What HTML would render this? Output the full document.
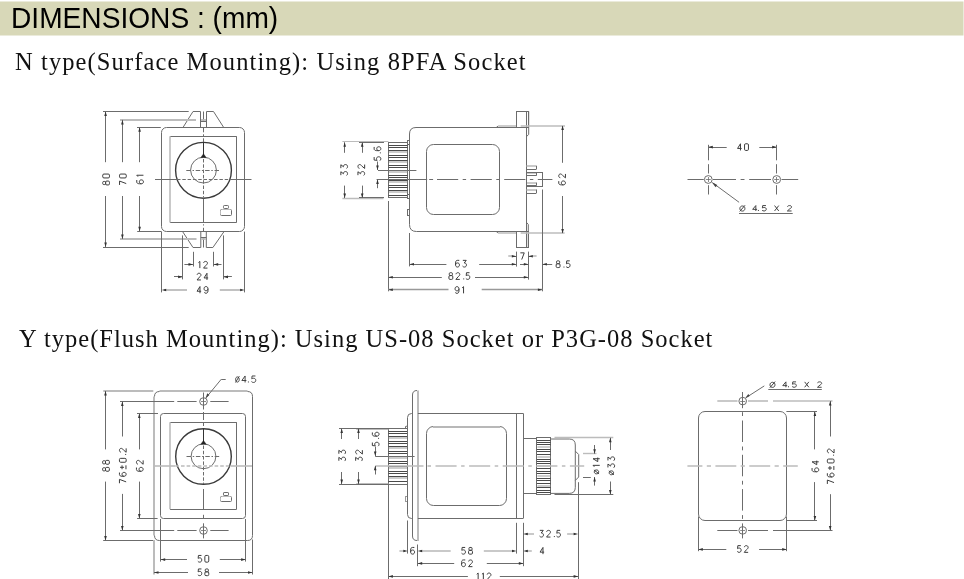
<!DOCTYPE html>
<html><head><meta charset="utf-8"><title>Dimensions</title>
<style>
html,body{margin:0;padding:0;background:#fff;width:964px;height:579px;overflow:hidden}
#bar{will-change:transform;position:absolute;left:0;top:0;width:964px;height:36px}
.t{will-change:transform;position:absolute;white-space:nowrap;font-family:"Liberation Serif",serif;font-size:24px;letter-spacing:1.2px;color:#111;line-height:1}
svg text{font-family:"Liberation Sans",sans-serif}
</style></head><body>
<svg id="bar" width="964" height="36" viewBox="0 0 964 36"><rect x="0" y="1.5" width="963.5" height="34" fill="#d8d8b8"/>
<text x="11" y="28" font-size="29.3" textLength="267.2" lengthAdjust="spacingAndGlyphs" fill="#000" style="font-family:'Liberation Sans',sans-serif">DIMENSIONS : (mm)</text></svg>
<div class="t" style="left:15.3px;top:49.5px;font-size:24.5px;letter-spacing:1.1px">N type(Surface Mounting): Using 8PFA Socket</div>
<div class="t" style="left:18.9px;top:326.5px;font-size:24.5px;letter-spacing:1.012px">Y type(Flush Mounting): Using US-08 Socket or P3G-08 Socket</div>
<svg style="position:absolute;left:0;top:0" width="964" height="579" viewBox="0 0 964 579" stroke-linecap="butt">
<rect x="161.5" y="127.5" width="83.0" height="104.0" rx="5" stroke="#6c6c6c" stroke-width="1" fill="none"/>
<line x1="170" y1="136.5" x2="236.6" y2="136.5" stroke="#6c6c6c" stroke-width="1" />
<line x1="236.5" y1="136.3" x2="236.5" y2="222.5" stroke="#6c6c6c" stroke-width="1" />
<line x1="170" y1="222.5" x2="236.6" y2="222.5" stroke="#6c6c6c" stroke-width="1" />
<line x1="170.0" y1="136.3" x2="170.0" y2="222.5" stroke="#bcbcbc" stroke-width="1.6" />
<circle cx="203.5" cy="170.3" r="27.9" stroke="#3a3a3a" stroke-width="1.4" fill="none"/>
<circle cx="203.5" cy="170.1" r="12.9" stroke="#6c6c6c" stroke-width="1" fill="none"/>
<line x1="203.5" y1="142.3" x2="203.5" y2="155" stroke="#333" stroke-width="1" />
<polygon points="203.5,153.8 200.8,157.6 206.2,157.6" stroke="#222" stroke-width="0.4" fill="#222"/>
<line x1="186.3" y1="170.5" x2="220" y2="170.5" stroke="#6c6c6c" stroke-width="1" stroke-dasharray="4.5 1.7 1.5 1.7" stroke-dashoffset="0"/>
<line x1="203.5" y1="159" x2="203.5" y2="197.5" stroke="#6c6c6c" stroke-width="1" stroke-dasharray="3.5 1.8" stroke-dashoffset="0"/>
<line x1="203.5" y1="127.3" x2="203.5" y2="142" stroke="#6c6c6c" stroke-width="1" stroke-dasharray="5 2 2 2" stroke-dashoffset="0"/>
<line x1="203.5" y1="198.5" x2="203.5" y2="222.5" stroke="#6c6c6c" stroke-width="1" />
<line x1="203.5" y1="224.3" x2="203.5" y2="225.5" stroke="#6c6c6c" stroke-width="1" />
<line x1="203.5" y1="227.8" x2="203.5" y2="231.3" stroke="#6c6c6c" stroke-width="1" />
<line x1="203.5" y1="237.5" x2="203.5" y2="247.5" stroke="#6c6c6c" stroke-width="1" />
<line x1="155" y1="179.5" x2="177" y2="179.5" stroke="#6c6c6c" stroke-width="1" />
<line x1="177" y1="179.5" x2="229.5" y2="179.5" stroke="#6c6c6c" stroke-width="1" stroke-dasharray="3.5 1.8" stroke-dashoffset="0"/>
<line x1="229.5" y1="179.5" x2="251.5" y2="179.5" stroke="#6c6c6c" stroke-width="1" />
<polyline points="183.1,127.3 193,111.5 200.5,111.5 200.5,127.3" stroke="#6c6c6c" stroke-width="1" fill="none"/>
<polyline points="206.5,127.3 206.5,111.5 213.5,111.5 223.6,127.3" stroke="#6c6c6c" stroke-width="1" fill="none"/>
<line x1="200.5" y1="121.5" x2="206.5" y2="121.5" stroke="#6c6c6c" stroke-width="1" />
<line x1="203.5" y1="111.5" x2="203.5" y2="121.3" stroke="#6c6c6c" stroke-width="1" />
<polyline points="182.6,231.6 193,247.5 200.8,247.5 200.8,231.6" stroke="#6c6c6c" stroke-width="1" fill="none"/>
<polyline points="206.3,231.6 206.3,247.5 212.9,247.5 224,231.6" stroke="#6c6c6c" stroke-width="1" fill="none"/>
<line x1="200.8" y1="237.5" x2="206.3" y2="237.5" stroke="#6c6c6c" stroke-width="1" />
<rect x="220.5" y="209.5" width="11.0" height="6.0" rx="1" stroke="#6c6c6c" stroke-width="1" fill="none"/>
<line x1="221.5" y1="209.5" x2="230.5" y2="209.5" stroke="#bcbcbc" stroke-width="1" />
<line x1="220.5" y1="210.5" x2="220.5" y2="214.5" stroke="#bcbcbc" stroke-width="1" />
<rect x="223.5" y="205.5" width="5.0" height="3.0" rx="0.8" stroke="#6c6c6c" stroke-width="1" fill="none"/>
<line x1="103" y1="111.5" x2="188.7" y2="111.5" stroke="#6c6c6c" stroke-width="1" />
<line x1="103" y1="247.5" x2="188.7" y2="247.5" stroke="#6c6c6c" stroke-width="1" />
<line x1="120" y1="120.0" x2="196" y2="120.0" stroke="#bcbcbc" stroke-width="1.8" />
<line x1="120" y1="239.0" x2="196.5" y2="239.0" stroke="#bcbcbc" stroke-width="1.8" />
<line x1="201" y1="120.0" x2="206" y2="120.0" stroke="#bcbcbc" stroke-width="1.8" />
<line x1="201.3" y1="239.0" x2="205.8" y2="239.0" stroke="#bcbcbc" stroke-width="1.8" />
<line x1="137" y1="127.5" x2="160.8" y2="127.5" stroke="#6c6c6c" stroke-width="1" />
<line x1="137.2" y1="231.5" x2="161.5" y2="231.5" stroke="#6c6c6c" stroke-width="1" />
<line x1="105.5" y1="111.5" x2="105.5" y2="162.2" stroke="#6c6c6c" stroke-width="1" />
<line x1="105.5" y1="196" x2="105.5" y2="247" stroke="#6c6c6c" stroke-width="1" />
<polygon points="105.60,111.50 104.30,116.00 106.90,116.00" fill="#333"/>
<polygon points="105.60,247.00 104.30,242.50 106.90,242.50" fill="#333"/>
<g fill="none" stroke="#3c3c3c" stroke-width="1.0" transform="rotate(-90 106.1 179.5)"><path transform="translate(100.65 176.15) scale(0.9750 0.9571)" d="M1.3 3Q0.4 3 0.4 2V1Q0.4 0 1.4 0H2.6Q3.6 0 3.6 1V2Q3.6 3 2.7 3ZM1.2 3Q0 3 0 4.3V5.8Q0 7 1.2 7H2.8Q4 7 4 5.8V4.3Q4 3 2.8 3Z" vector-effect="non-scaling-stroke"/><path transform="translate(107.65 176.15) scale(0.9750 0.9571)" d="M1.1 0H2.9Q4 0 4 1.3V5.7Q4 7 2.9 7H1.1Q0 7 0 5.7V1.3Q0 0 1.1 0Z" vector-effect="non-scaling-stroke"/></g>
<line x1="122.5" y1="119.9" x2="122.5" y2="162.2" stroke="#6c6c6c" stroke-width="1" />
<line x1="122.5" y1="196" x2="122.5" y2="238.9" stroke="#6c6c6c" stroke-width="1" />
<polygon points="122.40,119.90 121.10,124.40 123.70,124.40" fill="#333"/>
<polygon points="122.40,238.90 121.10,234.40 123.70,234.40" fill="#333"/>
<g fill="none" stroke="#3c3c3c" stroke-width="1.0" transform="rotate(-90 122.9 179.5)"><path transform="translate(117.45 176.15) scale(0.9750 0.9571)" d="M0 0H4L1.4 7" vector-effect="non-scaling-stroke"/><path transform="translate(124.45 176.15) scale(0.9750 0.9571)" d="M1.1 0H2.9Q4 0 4 1.3V5.7Q4 7 2.9 7H1.1Q0 7 0 5.7V1.3Q0 0 1.1 0Z" vector-effect="non-scaling-stroke"/></g>
<line x1="139.5" y1="127.3" x2="139.5" y2="162.2" stroke="#6c6c6c" stroke-width="1" />
<line x1="139.5" y1="196" x2="139.5" y2="231.3" stroke="#6c6c6c" stroke-width="1" />
<polygon points="139.60,127.30 138.30,131.80 140.90,131.80" fill="#333"/>
<polygon points="139.60,231.30 138.30,226.80 140.90,226.80" fill="#333"/>
<g fill="none" stroke="#3c3c3c" stroke-width="1.0" transform="rotate(-90 140.1 179.5)"><path transform="translate(135.85 176.15) scale(0.9750 0.9571)" d="M3.8 0H1.8C0.6 0 0 1.1 0 2.7V4.8C0 6.1 0.8 7 2 7S4 6.1 4 4.8S3.2 2.7 2 2.7S0 3.6 0 4.8" vector-effect="non-scaling-stroke"/><path transform="translate(142.85 176.15) scale(0.9750 0.9571)" d="M0.1 1.3L1.54 0V7" vector-effect="non-scaling-stroke"/></g>
<line x1="193.5" y1="251.8" x2="193.5" y2="266.5" stroke="#6c6c6c" stroke-width="1" />
<line x1="213.5" y1="251.8" x2="213.5" y2="266.5" stroke="#6c6c6c" stroke-width="1" />
<line x1="184.4" y1="264.5" x2="193" y2="264.5" stroke="#6c6c6c" stroke-width="1" />
<polygon points="193.00,264.40 188.50,263.10 188.50,265.70" fill="#333"/>
<line x1="213.7" y1="264.5" x2="221.5" y2="264.5" stroke="#6c6c6c" stroke-width="1" />
<polygon points="213.70,264.40 218.20,263.10 218.20,265.70" fill="#333"/>
<g fill="none" stroke="#3c3c3c" stroke-width="1.0"><path transform="translate(198.35 261.40) scale(0.9750 0.9571)" d="M0.1 1.3L1.54 0V7" vector-effect="non-scaling-stroke"/><path transform="translate(203.55 261.40) scale(0.9750 0.9571)" d="M0.1 1.6C0.3 0.4 1 0 2 0C3.2 0 4 0.7 4 1.8C4 2.8 3.3 3.4 2.4 4.1L0 7H4" vector-effect="non-scaling-stroke"/></g>
<line x1="182.5" y1="235.4" x2="182.5" y2="279.4" stroke="#6c6c6c" stroke-width="1" />
<line x1="223.5" y1="235.4" x2="223.5" y2="279.4" stroke="#6c6c6c" stroke-width="1" />
<line x1="174" y1="276.5" x2="182.6" y2="276.5" stroke="#6c6c6c" stroke-width="1" />
<polygon points="182.60,276.90 178.10,275.60 178.10,278.20" fill="#333"/>
<line x1="223.5" y1="276.5" x2="231.9" y2="276.5" stroke="#6c6c6c" stroke-width="1" />
<polygon points="223.50,276.90 228.00,275.60 228.00,278.20" fill="#333"/>
<g fill="none" stroke="#3c3c3c" stroke-width="1.0"><path transform="translate(197.05 273.25) scale(0.9750 0.9571)" d="M0.1 1.6C0.3 0.4 1 0 2 0C3.2 0 4 0.7 4 1.8C4 2.8 3.3 3.4 2.4 4.1L0 7H4" vector-effect="non-scaling-stroke"/><path transform="translate(204.05 273.25) scale(0.9750 0.9571)" d="M3 7V0L0 4.9H4.2" vector-effect="non-scaling-stroke"/></g>
<line x1="161.5" y1="231.6" x2="161.5" y2="292.4" stroke="#6c6c6c" stroke-width="1" />
<line x1="244.5" y1="231.6" x2="244.5" y2="292.4" stroke="#6c6c6c" stroke-width="1" />
<line x1="164" y1="290.0" x2="187" y2="290.0" stroke="#bcbcbc" stroke-width="1.8" />
<polygon points="161.70,290.00 166.20,288.70 166.20,291.30" fill="#333"/>
<line x1="219.8" y1="290.0" x2="242" y2="290.0" stroke="#bcbcbc" stroke-width="1.8" />
<polygon points="244.60,290.00 240.10,288.70 240.10,291.30" fill="#333"/>
<g fill="none" stroke="#3c3c3c" stroke-width="1.0"><path transform="translate(197.05 286.55) scale(0.9750 0.9571)" d="M3 7V0L0 4.9H4.2" vector-effect="non-scaling-stroke"/><path transform="translate(204.05 286.55) scale(0.9750 0.9571)" d="M4 2.2C4 3.5 3.2 4.4 2 4.4S0 3.5 0 2.2S0.8 0 2 0S4 0.9 4 2.2V4.6C4 6.1 3.2 7 2 7C1.2 7 0.6 6.7 0.2 6.1" vector-effect="non-scaling-stroke"/></g>
<path d="M 526.5 127.5 L 416 127.5 Q 409.5 127.5 409.5 134 L 409.5 224.5 Q 409.5 231.5 416.5 231.5 L 526.5 231.5 Z" stroke="#6c6c6c" stroke-width="1" fill="none"/>
<rect x="426.5" y="144.5" width="73.0" height="70.0" rx="7" stroke="#6c6c6c" stroke-width="1" fill="none"/>
<rect x="388.5" y="142.5" width="19.0" height="55.0" rx="0" stroke="#6c6c6c" stroke-width="1" fill="none"/>
<line x1="388.5" y1="145.5" x2="407.6" y2="145.5" stroke="#4a4a4a" stroke-width="1" />
<line x1="388.5" y1="147.5" x2="407.6" y2="147.5" stroke="#4a4a4a" stroke-width="1" />
<line x1="388.5" y1="150.5" x2="407.6" y2="150.5" stroke="#4a4a4a" stroke-width="1" />
<line x1="389.0" y1="152.0" x2="407.1" y2="152.0" stroke="#c0c0c0" stroke-width="1.6" />
<line x1="388.5" y1="155.5" x2="407.6" y2="155.5" stroke="#4a4a4a" stroke-width="1" />
<line x1="388.5" y1="157.5" x2="407.6" y2="157.5" stroke="#4a4a4a" stroke-width="1" />
<line x1="388.5" y1="160.5" x2="407.6" y2="160.5" stroke="#4a4a4a" stroke-width="1" />
<line x1="389.0" y1="162.0" x2="407.1" y2="162.0" stroke="#c0c0c0" stroke-width="1.6" />
<line x1="388.5" y1="165.5" x2="407.6" y2="165.5" stroke="#4a4a4a" stroke-width="1" />
<line x1="388.5" y1="167.5" x2="407.6" y2="167.5" stroke="#4a4a4a" stroke-width="1" />
<line x1="388.5" y1="170.5" x2="407.6" y2="170.5" stroke="#4a4a4a" stroke-width="1" />
<line x1="389.0" y1="172.0" x2="407.1" y2="172.0" stroke="#c0c0c0" stroke-width="1.6" />
<line x1="388.5" y1="175.5" x2="407.6" y2="175.5" stroke="#4a4a4a" stroke-width="1" />
<line x1="388.5" y1="177.5" x2="407.6" y2="177.5" stroke="#4a4a4a" stroke-width="1" />
<line x1="388.5" y1="180.5" x2="407.6" y2="180.5" stroke="#4a4a4a" stroke-width="1" />
<line x1="389.0" y1="182.0" x2="407.1" y2="182.0" stroke="#c0c0c0" stroke-width="1.6" />
<line x1="388.5" y1="185.5" x2="407.6" y2="185.5" stroke="#4a4a4a" stroke-width="1" />
<line x1="388.5" y1="187.5" x2="407.6" y2="187.5" stroke="#4a4a4a" stroke-width="1" />
<line x1="388.5" y1="190.5" x2="407.6" y2="190.5" stroke="#4a4a4a" stroke-width="1" />
<line x1="389.0" y1="192.0" x2="407.1" y2="192.0" stroke="#c0c0c0" stroke-width="1.6" />
<line x1="388.5" y1="195.5" x2="407.6" y2="195.5" stroke="#4a4a4a" stroke-width="1" />
<rect x="407.5" y="140.5" width="2.0" height="4.0" rx="0" stroke="#6c6c6c" stroke-width="1" fill="none"/>
<rect x="407.5" y="194.5" width="2.0" height="4.0" rx="0" stroke="#6c6c6c" stroke-width="1" fill="none"/>
<rect x="407.5" y="209.5" width="2.0" height="6.0" rx="0" stroke="#6c6c6c" stroke-width="1" fill="none"/>
<line x1="378" y1="170.5" x2="416.4" y2="170.5" stroke="#6c6c6c" stroke-width="1" />
<line x1="376.6" y1="179.5" x2="427.2" y2="179.5" stroke="#6c6c6c" stroke-width="1" />
<line x1="429.2" y1="179.5" x2="433.1" y2="179.5" stroke="#6c6c6c" stroke-width="1" />
<line x1="437" y1="179.5" x2="552.4" y2="179.5" stroke="#6c6c6c" stroke-width="1" stroke-dasharray="21.2 4.5 3.4 4.5" stroke-dashoffset="0"/>
<rect x="516.5" y="111.5" width="12.0" height="16.0" rx="0" stroke="#6c6c6c" stroke-width="1" fill="none"/>
<line x1="526.5" y1="111.3" x2="526.5" y2="136.6" stroke="#6c6c6c" stroke-width="1" />
<polyline points="528.7,111.3 528.7,134.5 526.5,136.6" stroke="#6c6c6c" stroke-width="1" fill="none"/>
<rect x="516.5" y="231.5" width="12.0" height="16.0" rx="0" stroke="#6c6c6c" stroke-width="1" fill="none"/>
<line x1="526.5" y1="222.4" x2="526.5" y2="247.3" stroke="#6c6c6c" stroke-width="1" />
<polyline points="528.3,247.3 528.3,224.5 526.5,222.4" stroke="#6c6c6c" stroke-width="1" fill="none"/>
<line x1="496.2" y1="127.5" x2="498.3" y2="126" stroke="#6c6c6c" stroke-width="1" />
<line x1="498.3" y1="126.0" x2="516" y2="126.0" stroke="#bcbcbc" stroke-width="1.5" />
<line x1="520.7" y1="126.0" x2="565" y2="126.0" stroke="#bcbcbc" stroke-width="1.5" />
<line x1="496.2" y1="231.5" x2="497.9" y2="232.8" stroke="#6c6c6c" stroke-width="1" />
<line x1="497.9" y1="233.0" x2="516" y2="233.0" stroke="#bcbcbc" stroke-width="1.5" />
<line x1="520.7" y1="233.0" x2="564.6" y2="233.0" stroke="#bcbcbc" stroke-width="1.5" />
<line x1="526.5" y1="166.0" x2="536.4" y2="166.0" stroke="#bcbcbc" stroke-width="1.6" />
<line x1="526.5" y1="169.5" x2="536.4" y2="169.5" stroke="#6c6c6c" stroke-width="1" />
<line x1="536.5" y1="165.8" x2="536.5" y2="169.2" stroke="#6c6c6c" stroke-width="1" />
<line x1="526.5" y1="173.0" x2="536.4" y2="173.0" stroke="#bcbcbc" stroke-width="1.6" />
<line x1="526.5" y1="175.5" x2="536.4" y2="175.5" stroke="#6c6c6c" stroke-width="1" />
<line x1="536.5" y1="172.7" x2="536.5" y2="175.7" stroke="#6c6c6c" stroke-width="1" />
<line x1="526.5" y1="183.0" x2="536.4" y2="183.0" stroke="#bcbcbc" stroke-width="1.6" />
<line x1="526.5" y1="185.5" x2="536.4" y2="185.5" stroke="#6c6c6c" stroke-width="1" />
<line x1="536.5" y1="182.6" x2="536.5" y2="185.7" stroke="#6c6c6c" stroke-width="1" />
<line x1="526.5" y1="190.0" x2="536.4" y2="190.0" stroke="#bcbcbc" stroke-width="1.6" />
<line x1="526.5" y1="193.5" x2="536.4" y2="193.5" stroke="#6c6c6c" stroke-width="1" />
<line x1="536.5" y1="189.5" x2="536.5" y2="193" stroke="#6c6c6c" stroke-width="1" />
<rect x="526.5" y="172.5" width="16.0" height="14.0" rx="0" stroke="#6c6c6c" stroke-width="1" fill="none"/>
<line x1="542.5" y1="189.5" x2="542.5" y2="291.3" stroke="#6c6c6c" stroke-width="1" />
<line x1="562.5" y1="126" x2="562.5" y2="162.8" stroke="#6c6c6c" stroke-width="1" />
<polygon points="562.60,125.50 561.30,130.00 563.90,130.00" fill="#333"/>
<line x1="562.5" y1="196" x2="562.5" y2="233" stroke="#6c6c6c" stroke-width="1" />
<polygon points="562.60,233.50 561.30,229.00 563.90,229.00" fill="#333"/>
<g fill="none" stroke="#3c3c3c" stroke-width="1.0" transform="rotate(-90 562.1 179.4)"><path transform="translate(556.65 176.05) scale(0.9750 0.9571)" d="M3.8 0H1.8C0.6 0 0 1.1 0 2.7V4.8C0 6.1 0.8 7 2 7S4 6.1 4 4.8S3.2 2.7 2 2.7S0 3.6 0 4.8" vector-effect="non-scaling-stroke"/><path transform="translate(563.65 176.05) scale(0.9750 0.9571)" d="M0.1 1.6C0.3 0.4 1 0 2 0C3.2 0 4 0.7 4 1.8C4 2.8 3.3 3.4 2.4 4.1L0 7H4" vector-effect="non-scaling-stroke"/></g>
<line x1="342.4" y1="141.5" x2="388.5" y2="141.5" stroke="#bcbcbc" stroke-width="1" />
<line x1="359" y1="142.5" x2="384" y2="142.5" stroke="#6c6c6c" stroke-width="1" />
<line x1="342.4" y1="198.5" x2="383.5" y2="198.5" stroke="#bcbcbc" stroke-width="1.4" />
<line x1="359" y1="197.5" x2="384" y2="197.5" stroke="#6c6c6c" stroke-width="1" />
<line x1="344.5" y1="142.3" x2="344.5" y2="152.8" stroke="#6c6c6c" stroke-width="1" />
<polygon points="344.70,142.30 343.40,146.80 346.00,146.80" fill="#333"/>
<line x1="344.5" y1="185.6" x2="344.5" y2="198" stroke="#6c6c6c" stroke-width="1" />
<polygon points="344.70,198.00 343.40,193.50 346.00,193.50" fill="#333"/>
<g fill="none" stroke="#3c3c3c" stroke-width="1.0" transform="rotate(-90 344.2 170)"><path transform="translate(338.75 166.65) scale(0.9750 0.9571)" d="M0.3 0H3.8L1.7 2.8H2.1C3.3 2.8 4 3.6 4 4.8C4 6.1 3.2 7 2 7C1.1 7 0.4 6.6 0 6" vector-effect="non-scaling-stroke"/><path transform="translate(345.75 166.65) scale(0.9750 0.9571)" d="M0.3 0H3.8L1.7 2.8H2.1C3.3 2.8 4 3.6 4 4.8C4 6.1 3.2 7 2 7C1.1 7 0.4 6.6 0 6" vector-effect="non-scaling-stroke"/></g>
<line x1="362.5" y1="142.3" x2="362.5" y2="152.8" stroke="#6c6c6c" stroke-width="1" />
<polygon points="362.20,142.30 360.90,146.80 363.50,146.80" fill="#333"/>
<line x1="362.5" y1="185.6" x2="362.5" y2="198" stroke="#6c6c6c" stroke-width="1" />
<polygon points="362.20,198.00 360.90,193.50 363.50,193.50" fill="#333"/>
<g fill="none" stroke="#3c3c3c" stroke-width="1.0" transform="rotate(-90 361.3 170)"><path transform="translate(355.85 166.65) scale(0.9750 0.9571)" d="M0.3 0H3.8L1.7 2.8H2.1C3.3 2.8 4 3.6 4 4.8C4 6.1 3.2 7 2 7C1.1 7 0.4 6.6 0 6" vector-effect="non-scaling-stroke"/><path transform="translate(362.85 166.65) scale(0.9750 0.9571)" d="M0.1 1.6C0.3 0.4 1 0 2 0C3.2 0 4 0.7 4 1.8C4 2.8 3.3 3.4 2.4 4.1L0 7H4" vector-effect="non-scaling-stroke"/></g>
<line x1="377.5" y1="161.5" x2="377.5" y2="170" stroke="#6c6c6c" stroke-width="1" />
<polygon points="377.50,170.00 376.20,165.50 378.80,165.50" fill="#333"/>
<line x1="377.5" y1="179.6" x2="377.5" y2="188.2" stroke="#6c6c6c" stroke-width="1" />
<polygon points="377.50,179.60 376.20,184.10 378.80,184.10" fill="#333"/>
<g fill="none" stroke="#3c3c3c" stroke-width="1.0" transform="rotate(-90 377.5 153.7)"><path transform="translate(370.55 150.35) scale(0.9750 0.9571)" d="M3.7 0H0.6L0.3 3.1C0.7 2.7 1.3 2.5 2 2.5C3.2 2.5 4 3.4 4 4.7C4 6.1 3.1 7 1.9 7C1 7 0.4 6.6 0 6" vector-effect="non-scaling-stroke"/><rect x="377.85" y="156.05" width="1.0" height="1.0" fill="#3c3c3c" stroke="none"/><path transform="translate(380.55 150.35) scale(0.9750 0.9571)" d="M3.8 0H1.8C0.6 0 0 1.1 0 2.7V4.8C0 6.1 0.8 7 2 7S4 6.1 4 4.8S3.2 2.7 2 2.7S0 3.6 0 4.8" vector-effect="non-scaling-stroke"/></g>
<line x1="409.5" y1="233" x2="409.5" y2="266.4" stroke="#6c6c6c" stroke-width="1" />
<line x1="409.5" y1="264.5" x2="446.4" y2="264.5" stroke="#6c6c6c" stroke-width="1" />
<polygon points="409.50,264.30 414.00,263.00 414.00,265.60" fill="#333"/>
<line x1="479.2" y1="264.5" x2="516.3" y2="264.5" stroke="#6c6c6c" stroke-width="1" />
<polygon points="516.30,264.30 511.80,263.00 511.80,265.60" fill="#333"/>
<g fill="none" stroke="#3c3c3c" stroke-width="1.0"><path transform="translate(455.55 260.35) scale(0.9750 0.9571)" d="M3.8 0H1.8C0.6 0 0 1.1 0 2.7V4.8C0 6.1 0.8 7 2 7S4 6.1 4 4.8S3.2 2.7 2 2.7S0 3.6 0 4.8" vector-effect="non-scaling-stroke"/><path transform="translate(462.55 260.35) scale(0.9750 0.9571)" d="M0.3 0H3.8L1.7 2.8H2.1C3.3 2.8 4 3.6 4 4.8C4 6.1 3.2 7 2 7C1.1 7 0.4 6.6 0 6" vector-effect="non-scaling-stroke"/></g>
<line x1="516.5" y1="251.6" x2="516.5" y2="266.6" stroke="#6c6c6c" stroke-width="1" />
<line x1="528.5" y1="251.6" x2="528.5" y2="279.6" stroke="#6c6c6c" stroke-width="1" />
<line x1="508.2" y1="256.0" x2="512" y2="256.0" stroke="#bcbcbc" stroke-width="1.6" />
<line x1="512" y1="256.5" x2="516.3" y2="256.5" stroke="#6c6c6c" stroke-width="1" />
<polygon points="516.30,256.20 511.80,254.90 511.80,257.50" fill="#333"/>
<line x1="528.3" y1="256.5" x2="532.5" y2="256.5" stroke="#6c6c6c" stroke-width="1" />
<line x1="532.5" y1="256.0" x2="536.6" y2="256.0" stroke="#bcbcbc" stroke-width="1.6" />
<polygon points="528.30,256.20 532.80,254.90 532.80,257.50" fill="#333"/>
<g fill="none" stroke="#3c3c3c" stroke-width="1.0"><path transform="translate(520.35 252.85) scale(0.9750 0.9571)" d="M0 0H4L1.4 7" vector-effect="non-scaling-stroke"/></g>
<line x1="520" y1="264.5" x2="528.3" y2="264.5" stroke="#6c6c6c" stroke-width="1" />
<polygon points="528.30,264.30 523.80,263.00 523.80,265.60" fill="#333"/>
<line x1="542.4" y1="264.5" x2="552.2" y2="264.5" stroke="#6c6c6c" stroke-width="1" />
<polygon points="542.40,264.30 546.90,263.00 546.90,265.60" fill="#333"/>
<g fill="none" stroke="#3c3c3c" stroke-width="1.0"><path transform="translate(556.15 260.85) scale(0.9750 0.9571)" d="M1.3 3Q0.4 3 0.4 2V1Q0.4 0 1.4 0H2.6Q3.6 0 3.6 1V2Q3.6 3 2.7 3ZM1.2 3Q0 3 0 4.3V5.8Q0 7 1.2 7H2.8Q4 7 4 5.8V4.3Q4 3 2.8 3Z" vector-effect="non-scaling-stroke"/><rect x="563.45" y="266.55" width="1.0" height="1.0" fill="#3c3c3c" stroke="none"/><path transform="translate(566.15 260.85) scale(0.9750 0.9571)" d="M3.7 0H0.6L0.3 3.1C0.7 2.7 1.3 2.5 2 2.5C3.2 2.5 4 3.4 4 4.7C4 6.1 3.1 7 1.9 7C1 7 0.4 6.6 0 6" vector-effect="non-scaling-stroke"/></g>
<line x1="388.5" y1="201" x2="388.5" y2="291.3" stroke="#6c6c6c" stroke-width="1" />
<line x1="388.3" y1="277.5" x2="441.8" y2="277.5" stroke="#6c6c6c" stroke-width="1" />
<polygon points="388.30,277.20 392.80,275.90 392.80,278.50" fill="#333"/>
<line x1="475" y1="277.5" x2="528.3" y2="277.5" stroke="#6c6c6c" stroke-width="1" />
<polygon points="528.30,277.20 523.80,275.90 523.80,278.50" fill="#333"/>
<g fill="none" stroke="#3c3c3c" stroke-width="1.0"><path transform="translate(448.90 272.70) scale(0.9750 0.9571)" d="M1.3 3Q0.4 3 0.4 2V1Q0.4 0 1.4 0H2.6Q3.6 0 3.6 1V2Q3.6 3 2.7 3ZM1.2 3Q0 3 0 4.3V5.8Q0 7 1.2 7H2.8Q4 7 4 5.8V4.3Q4 3 2.8 3Z" vector-effect="non-scaling-stroke"/><path transform="translate(455.90 272.70) scale(0.9750 0.9571)" d="M0.1 1.6C0.3 0.4 1 0 2 0C3.2 0 4 0.7 4 1.8C4 2.8 3.3 3.4 2.4 4.1L0 7H4" vector-effect="non-scaling-stroke"/><rect x="463.20" y="278.40" width="1.0" height="1.0" fill="#3c3c3c" stroke="none"/><path transform="translate(465.90 272.70) scale(0.9750 0.9571)" d="M3.7 0H0.6L0.3 3.1C0.7 2.7 1.3 2.5 2 2.5C3.2 2.5 4 3.4 4 4.7C4 6.1 3.1 7 1.9 7C1 7 0.4 6.6 0 6" vector-effect="non-scaling-stroke"/></g>
<line x1="388.3" y1="289.5" x2="448.5" y2="289.5" stroke="#999" stroke-width="1.4" />
<polygon points="388.30,289.80 392.80,288.50 392.80,291.10" fill="#333"/>
<line x1="481.7" y1="289.5" x2="542.4" y2="289.5" stroke="#999" stroke-width="1.4" />
<polygon points="542.40,289.80 537.90,288.50 537.90,291.10" fill="#333"/>
<g fill="none" stroke="#3c3c3c" stroke-width="1.0"><path transform="translate(455.05 286.65) scale(0.9750 0.9571)" d="M4 2.2C4 3.5 3.2 4.4 2 4.4S0 3.5 0 2.2S0.8 0 2 0S4 0.9 4 2.2V4.6C4 6.1 3.2 7 2 7C1.2 7 0.6 6.7 0.2 6.1" vector-effect="non-scaling-stroke"/><path transform="translate(462.05 286.65) scale(0.9750 0.9571)" d="M0.1 1.3L1.54 0V7" vector-effect="non-scaling-stroke"/></g>
<circle cx="708.3" cy="179.5" r="3.9" stroke="#6c6c6c" stroke-width="1" fill="none"/>
<line x1="705.8" y1="179.5" x2="710.8" y2="179.5" stroke="#6c6c6c" stroke-width="0.8" />
<line x1="708.5" y1="177" x2="708.5" y2="182" stroke="#6c6c6c" stroke-width="0.8" />
<line x1="708.5" y1="144.8" x2="708.5" y2="160.3" stroke="#6c6c6c" stroke-width="1" />
<line x1="708.5" y1="164.2" x2="708.5" y2="173.5" stroke="#6c6c6c" stroke-width="1" />
<line x1="708.5" y1="185.2" x2="708.5" y2="194.5" stroke="#6c6c6c" stroke-width="1" />
<circle cx="776.7" cy="179.5" r="3.9" stroke="#6c6c6c" stroke-width="1" fill="none"/>
<line x1="774.2" y1="179.5" x2="779.2" y2="179.5" stroke="#6c6c6c" stroke-width="0.8" />
<line x1="776.5" y1="177" x2="776.5" y2="182" stroke="#6c6c6c" stroke-width="0.8" />
<line x1="776.5" y1="144.8" x2="776.5" y2="160.3" stroke="#6c6c6c" stroke-width="1" />
<line x1="776.5" y1="164.2" x2="776.5" y2="173.5" stroke="#6c6c6c" stroke-width="1" />
<line x1="776.5" y1="185.2" x2="776.5" y2="194.5" stroke="#6c6c6c" stroke-width="1" />
<line x1="687.5" y1="179.5" x2="703.8" y2="179.5" stroke="#6c6c6c" stroke-width="1" />
<line x1="713" y1="179.5" x2="736" y2="179.5" stroke="#6c6c6c" stroke-width="1" />
<line x1="740.6" y1="179.5" x2="744.5" y2="179.5" stroke="#6c6c6c" stroke-width="1" />
<line x1="749.2" y1="179.5" x2="771" y2="179.5" stroke="#6c6c6c" stroke-width="1" />
<line x1="781.5" y1="179.5" x2="798.2" y2="179.5" stroke="#6c6c6c" stroke-width="1" />
<line x1="708.3" y1="147.5" x2="726.7" y2="147.5" stroke="#6c6c6c" stroke-width="1" />
<polygon points="708.30,147.10 712.80,145.80 712.80,148.40" fill="#333"/>
<line x1="759.3" y1="147.5" x2="776.7" y2="147.5" stroke="#6c6c6c" stroke-width="1" />
<polygon points="776.70,147.10 772.20,145.80 772.20,148.40" fill="#333"/>
<g fill="none" stroke="#3c3c3c" stroke-width="1.0"><path transform="translate(737.55 143.75) scale(0.9750 0.9571)" d="M3 7V0L0 4.9H4.2" vector-effect="non-scaling-stroke"/><path transform="translate(744.55 143.75) scale(0.9750 0.9571)" d="M1.1 0H2.9Q4 0 4 1.3V5.7Q4 7 2.9 7H1.1Q0 7 0 5.7V1.3Q0 0 1.1 0Z" vector-effect="non-scaling-stroke"/></g>
<line x1="712.7" y1="182.9" x2="739.1" y2="202.3" stroke="#6c6c6c" stroke-width="1" />
<polygon points="711.6,182.1 717.3,184.9 715.6,187.2" fill="#444"/>
<g fill="none" stroke="#3c3c3c" stroke-width="0.95"><path transform="translate(739.87 205.08) scale(1.2600 0.9103)" d="M2 1C0.9 1 0 2.1 0 3.8S0.9 6.6 2 6.6S4 5.5 4 3.8S3.1 1 2 1ZM4.1 0.2L-0.1 7" vector-effect="non-scaling-stroke"/><path transform="translate(752.67 205.57) scale(1.0500 0.7714)" d="M3 7V0L0 4.9H4.2" vector-effect="non-scaling-stroke"/><rect x="757.90" y="209.97" width="1.0" height="1.0" fill="#3c3c3c" stroke="none"/><path transform="translate(762.07 205.57) scale(1.0500 0.7714)" d="M3.7 0H0.6L0.3 3.1C0.7 2.7 1.3 2.5 2 2.5C3.2 2.5 4 3.4 4 4.7C4 6.1 3.1 7 1.9 7C1 7 0.4 6.6 0 6" vector-effect="non-scaling-stroke"/><path transform="translate(774.57 205.57) scale(1.0500 0.7714)" d="M0 0L4 7M4 0L0 7" vector-effect="non-scaling-stroke"/><path transform="translate(787.37 205.57) scale(1.0500 0.7714)" d="M0.1 1.6C0.3 0.4 1 0 2 0C3.2 0 4 0.7 4 1.8C4 2.8 3.3 3.4 2.4 4.1L0 7H4" vector-effect="non-scaling-stroke"/></g>
<line x1="739" y1="213.5" x2="792.7" y2="213.5" stroke="#6c6c6c" stroke-width="1" />
<line x1="154.0" y1="396.5" x2="154.0" y2="535.5" stroke="#bcbcbc" stroke-width="2" />
<line x1="159.5" y1="391.0" x2="247.5" y2="391.0" stroke="#bcbcbc" stroke-width="2" />
<path d="M 154.5 396.5 Q 154.5 391.5 159.5 391.5" stroke="#6c6c6c" stroke-width="1" fill="none"/>
<path d="M 247.5 391.5 Q 252.5 391.5 252.5 396.5 L 252.5 535.5 Q 252.5 540.5 247.5 540.5 L 159.5 540.5 Q 154.5 540.5 154.5 535.5" stroke="#6c6c6c" stroke-width="1" fill="none"/>
<rect x="160.5" y="413.5" width="85.0" height="105.0" rx="3" stroke="#6c6c6c" stroke-width="1" fill="none"/>
<line x1="170" y1="422.5" x2="236.6" y2="422.5" stroke="#6c6c6c" stroke-width="1" />
<line x1="236.5" y1="422.2" x2="236.5" y2="509.3" stroke="#6c6c6c" stroke-width="1" />
<line x1="170" y1="509.5" x2="236.6" y2="509.5" stroke="#6c6c6c" stroke-width="1" />
<line x1="170.0" y1="422.2" x2="170.0" y2="509.3" stroke="#bcbcbc" stroke-width="1.6" />
<circle cx="203.5" cy="456.5" r="27.8" stroke="#3a3a3a" stroke-width="1.4" fill="none"/>
<circle cx="203.5" cy="456.3" r="12.4" stroke="#6c6c6c" stroke-width="1" fill="none"/>
<line x1="203.5" y1="428.7" x2="203.5" y2="442" stroke="#333" stroke-width="1" />
<polygon points="203.5,440.4 200.8,444.2 206.2,444.2" stroke="#222" stroke-width="0.4" fill="#222"/>
<line x1="186.5" y1="456.5" x2="220.5" y2="456.5" stroke="#6c6c6c" stroke-width="1" stroke-dasharray="4.5 1.7 1.5 1.7" stroke-dashoffset="0"/>
<line x1="203.5" y1="445.5" x2="203.5" y2="484" stroke="#6c6c6c" stroke-width="1" stroke-dasharray="3.5 1.8" stroke-dashoffset="0"/>
<line x1="154" y1="466.0" x2="175.4" y2="466.0" stroke="#bcbcbc" stroke-width="1.6" />
<line x1="175.4" y1="466.0" x2="230.9" y2="466.0" stroke="#bcbcbc" stroke-width="1.6" stroke-dasharray="3.6 2" stroke-dashoffset="0"/>
<line x1="230.9" y1="466.0" x2="252" y2="466.0" stroke="#bcbcbc" stroke-width="1.6" />
<line x1="203.5" y1="392.5" x2="203.5" y2="409.5" stroke="#6c6c6c" stroke-width="1" />
<line x1="203.5" y1="412" x2="203.5" y2="428" stroke="#6c6c6c" stroke-width="1" stroke-dasharray="8 3 3 3" stroke-dashoffset="0"/>
<line x1="203.5" y1="489" x2="203.5" y2="509.5" stroke="#6c6c6c" stroke-width="1" />
<line x1="203.5" y1="514.8" x2="203.5" y2="518.8" stroke="#6c6c6c" stroke-width="1" />
<line x1="203.5" y1="523.3" x2="203.5" y2="538.4" stroke="#6c6c6c" stroke-width="1" />
<circle cx="203.5" cy="401.5" r="3.8" stroke="#6c6c6c" stroke-width="1" fill="none"/>
<line x1="201" y1="401.5" x2="206" y2="401.5" stroke="#6c6c6c" stroke-width="0.8" />
<line x1="203.5" y1="399.0" x2="203.5" y2="404.0" stroke="#6c6c6c" stroke-width="0.8" />
<line x1="120" y1="401.5" x2="174.2" y2="401.5" stroke="#6c6c6c" stroke-width="1" />
<line x1="177.3" y1="401.5" x2="196.6" y2="401.5" stroke="#6c6c6c" stroke-width="1" />
<line x1="210.3" y1="401.5" x2="228.6" y2="401.5" stroke="#6c6c6c" stroke-width="1" />
<circle cx="203.5" cy="530.5" r="3.8" stroke="#6c6c6c" stroke-width="1" fill="none"/>
<line x1="201" y1="530.5" x2="206" y2="530.5" stroke="#6c6c6c" stroke-width="0.8" />
<line x1="203.5" y1="528.0" x2="203.5" y2="533.0" stroke="#6c6c6c" stroke-width="0.8" />
<line x1="120" y1="530.5" x2="174.2" y2="530.5" stroke="#6c6c6c" stroke-width="1" />
<line x1="177.3" y1="530.5" x2="196.6" y2="530.5" stroke="#6c6c6c" stroke-width="1" />
<line x1="210.3" y1="530.5" x2="228.6" y2="530.5" stroke="#6c6c6c" stroke-width="1" />
<line x1="206.1" y1="397.6" x2="221.3" y2="379.2" stroke="#6c6c6c" stroke-width="1" />
<line x1="221.3" y1="379.5" x2="225.7" y2="379.5" stroke="#6c6c6c" stroke-width="1" />
<polygon points="205.6,398.4 207.2,393.3 209.3,394.9" fill="#444"/>
<g fill="none" stroke="#3c3c3c" stroke-width="0.95"><path transform="translate(235.57 375.97) scale(0.9137 0.9286)" d="M2 1C0.9 1 0 2.1 0 3.8S0.9 6.6 2 6.6S4 5.5 4 3.8S3.1 1 2 1ZM4.1 0.2L-0.1 7" vector-effect="non-scaling-stroke"/><path transform="translate(241.87 375.97) scale(1.0750 0.9286)" d="M3 7V0L0 4.9H4.2" vector-effect="non-scaling-stroke"/><rect x="247.90" y="381.47" width="1.0" height="1.0" fill="#3c3c3c" stroke="none"/><path transform="translate(251.47 375.97) scale(1.0750 0.9286)" d="M3.7 0H0.6L0.3 3.1C0.7 2.7 1.3 2.5 2 2.5C3.2 2.5 4 3.4 4 4.7C4 6.1 3.1 7 1.9 7C1 7 0.4 6.6 0 6" vector-effect="non-scaling-stroke"/></g>
<rect x="220.5" y="496.5" width="11.0" height="5.0" rx="1" stroke="#6c6c6c" stroke-width="1" fill="none"/>
<line x1="221.5" y1="496.5" x2="230.5" y2="496.5" stroke="#bcbcbc" stroke-width="1" />
<line x1="220.5" y1="497.5" x2="220.5" y2="500.5" stroke="#bcbcbc" stroke-width="1" />
<rect x="223.5" y="492.5" width="5.0" height="3.0" rx="0.6" stroke="#6c6c6c" stroke-width="1" fill="none"/>
<line x1="103.3" y1="391.0" x2="153.3" y2="391.0" stroke="#bcbcbc" stroke-width="2" />
<line x1="103.2" y1="540.5" x2="153.5" y2="540.5" stroke="#6c6c6c" stroke-width="1" />
<line x1="137" y1="413.5" x2="158" y2="413.5" stroke="#6c6c6c" stroke-width="1" />
<line x1="137.1" y1="518.5" x2="157.6" y2="518.5" stroke="#6c6c6c" stroke-width="1" />
<line x1="105.5" y1="391" x2="105.5" y2="449.4" stroke="#6c6c6c" stroke-width="1" />
<line x1="105.5" y1="481.6" x2="105.5" y2="540.5" stroke="#6c6c6c" stroke-width="1" />
<polygon points="105.50,391.00 104.20,395.50 106.80,395.50" fill="#333"/>
<polygon points="105.50,540.50 104.20,536.00 106.80,536.00" fill="#333"/>
<g fill="none" stroke="#3c3c3c" stroke-width="1.0" transform="rotate(-90 106.0 465.8)"><path transform="translate(100.55 462.45) scale(0.9750 0.9571)" d="M1.3 3Q0.4 3 0.4 2V1Q0.4 0 1.4 0H2.6Q3.6 0 3.6 1V2Q3.6 3 2.7 3ZM1.2 3Q0 3 0 4.3V5.8Q0 7 1.2 7H2.8Q4 7 4 5.8V4.3Q4 3 2.8 3Z" vector-effect="non-scaling-stroke"/><path transform="translate(107.55 462.45) scale(0.9750 0.9571)" d="M1.3 3Q0.4 3 0.4 2V1Q0.4 0 1.4 0H2.6Q3.6 0 3.6 1V2Q3.6 3 2.7 3ZM1.2 3Q0 3 0 4.3V5.8Q0 7 1.2 7H2.8Q4 7 4 5.8V4.3Q4 3 2.8 3Z" vector-effect="non-scaling-stroke"/></g>
<line x1="122.5" y1="401.5" x2="122.5" y2="436.5" stroke="#6c6c6c" stroke-width="1" />
<line x1="122.5" y1="493.9" x2="122.5" y2="530.5" stroke="#6c6c6c" stroke-width="1" />
<polygon points="122.30,401.50 121.00,406.00 123.60,406.00" fill="#333"/>
<polygon points="122.30,530.50 121.00,526.00 123.60,526.00" fill="#333"/>
<g fill="none" stroke="#3c3c3c" stroke-width="1.0" transform="rotate(-90 122.8 465.8)"><path transform="translate(105.35 462.45) scale(0.9750 0.9571)" d="M0 0H4L1.4 7" vector-effect="non-scaling-stroke"/><path transform="translate(112.35 462.45) scale(0.9750 0.9571)" d="M3.8 0H1.8C0.6 0 0 1.1 0 2.7V4.8C0 6.1 0.8 7 2 7S4 6.1 4 4.8S3.2 2.7 2 2.7S0 3.6 0 4.8" vector-effect="non-scaling-stroke"/><path transform="translate(119.35 462.45) scale(0.9750 0.9571)" d="M2 0.6V4.8M0 2.7H4M0 6.8H4" vector-effect="non-scaling-stroke"/><path transform="translate(126.35 462.45) scale(0.9750 0.9571)" d="M1.1 0H2.9Q4 0 4 1.3V5.7Q4 7 2.9 7H1.1Q0 7 0 5.7V1.3Q0 0 1.1 0Z" vector-effect="non-scaling-stroke"/><rect x="133.65" y="468.15" width="1.0" height="1.0" fill="#3c3c3c" stroke="none"/><path transform="translate(136.35 462.45) scale(0.9750 0.9571)" d="M0.1 1.6C0.3 0.4 1 0 2 0C3.2 0 4 0.7 4 1.8C4 2.8 3.3 3.4 2.4 4.1L0 7H4" vector-effect="non-scaling-stroke"/></g>
<line x1="139.5" y1="413.5" x2="139.5" y2="449.4" stroke="#6c6c6c" stroke-width="1" />
<line x1="139.5" y1="481.6" x2="139.5" y2="518.5" stroke="#6c6c6c" stroke-width="1" />
<polygon points="139.30,413.50 138.00,418.00 140.60,418.00" fill="#333"/>
<polygon points="139.30,518.50 138.00,514.00 140.60,514.00" fill="#333"/>
<g fill="none" stroke="#3c3c3c" stroke-width="1.0" transform="rotate(-90 139.8 465.8)"><path transform="translate(134.35 462.45) scale(0.9750 0.9571)" d="M3.8 0H1.8C0.6 0 0 1.1 0 2.7V4.8C0 6.1 0.8 7 2 7S4 6.1 4 4.8S3.2 2.7 2 2.7S0 3.6 0 4.8" vector-effect="non-scaling-stroke"/><path transform="translate(141.35 462.45) scale(0.9750 0.9571)" d="M0.1 1.6C0.3 0.4 1 0 2 0C3.2 0 4 0.7 4 1.8C4 2.8 3.3 3.4 2.4 4.1L0 7H4" vector-effect="non-scaling-stroke"/></g>
<line x1="160.5" y1="519" x2="160.5" y2="561.6" stroke="#6c6c6c" stroke-width="1" />
<line x1="245.5" y1="519" x2="245.5" y2="561.6" stroke="#6c6c6c" stroke-width="1" />
<line x1="154.0" y1="540" x2="154.0" y2="574.5" stroke="#bcbcbc" stroke-width="2" />
<line x1="252.5" y1="539.5" x2="252.5" y2="574.5" stroke="#6c6c6c" stroke-width="1" />
<line x1="160.7" y1="559.5" x2="187" y2="559.5" stroke="#6c6c6c" stroke-width="1" />
<polygon points="160.70,559.60 165.20,558.30 165.20,560.90" fill="#333"/>
<line x1="219.8" y1="559.5" x2="245.6" y2="559.5" stroke="#6c6c6c" stroke-width="1" />
<polygon points="245.60,559.60 241.10,558.30 241.10,560.90" fill="#333"/>
<g fill="none" stroke="#3c3c3c" stroke-width="1.0"><path transform="translate(197.85 555.45) scale(0.9750 0.9571)" d="M3.7 0H0.6L0.3 3.1C0.7 2.7 1.3 2.5 2 2.5C3.2 2.5 4 3.4 4 4.7C4 6.1 3.1 7 1.9 7C1 7 0.4 6.6 0 6" vector-effect="non-scaling-stroke"/><path transform="translate(204.85 555.45) scale(0.9750 0.9571)" d="M1.1 0H2.9Q4 0 4 1.3V5.7Q4 7 2.9 7H1.1Q0 7 0 5.7V1.3Q0 0 1.1 0Z" vector-effect="non-scaling-stroke"/></g>
<line x1="154" y1="572.5" x2="188" y2="572.5" stroke="#6c6c6c" stroke-width="1" />
<polygon points="154.00,572.50 158.50,571.20 158.50,573.80" fill="#333"/>
<line x1="219" y1="572.5" x2="252.5" y2="572.5" stroke="#6c6c6c" stroke-width="1" />
<polygon points="252.50,572.50 248.00,571.20 248.00,573.80" fill="#333"/>
<g fill="none" stroke="#3c3c3c" stroke-width="1.0"><path transform="translate(197.85 568.95) scale(0.9750 0.9571)" d="M3.7 0H0.6L0.3 3.1C0.7 2.7 1.3 2.5 2 2.5C3.2 2.5 4 3.4 4 4.7C4 6.1 3.1 7 1.9 7C1 7 0.4 6.6 0 6" vector-effect="non-scaling-stroke"/><path transform="translate(204.85 568.95) scale(0.9750 0.9571)" d="M1.3 3Q0.4 3 0.4 2V1Q0.4 0 1.4 0H2.6Q3.6 0 3.6 1V2Q3.6 3 2.7 3ZM1.2 3Q0 3 0 4.3V5.8Q0 7 1.2 7H2.8Q4 7 4 5.8V4.3Q4 3 2.8 3Z" vector-effect="non-scaling-stroke"/></g>
<rect x="388.5" y="428.5" width="19.0" height="56.0" rx="0" stroke="#6c6c6c" stroke-width="1" fill="none"/>
<line x1="388.4" y1="431.5" x2="407.5" y2="431.5" stroke="#4a4a4a" stroke-width="1" />
<line x1="388.4" y1="433.5" x2="407.5" y2="433.5" stroke="#4a4a4a" stroke-width="1" />
<line x1="388.4" y1="436.5" x2="407.5" y2="436.5" stroke="#4a4a4a" stroke-width="1" />
<line x1="388.9" y1="438.0" x2="407.0" y2="438.0" stroke="#c0c0c0" stroke-width="1.6" />
<line x1="388.4" y1="441.5" x2="407.5" y2="441.5" stroke="#4a4a4a" stroke-width="1" />
<line x1="388.4" y1="443.5" x2="407.5" y2="443.5" stroke="#4a4a4a" stroke-width="1" />
<line x1="388.4" y1="446.5" x2="407.5" y2="446.5" stroke="#4a4a4a" stroke-width="1" />
<line x1="388.9" y1="448.0" x2="407.0" y2="448.0" stroke="#c0c0c0" stroke-width="1.6" />
<line x1="388.4" y1="451.5" x2="407.5" y2="451.5" stroke="#4a4a4a" stroke-width="1" />
<line x1="388.4" y1="453.5" x2="407.5" y2="453.5" stroke="#4a4a4a" stroke-width="1" />
<line x1="388.4" y1="456.5" x2="407.5" y2="456.5" stroke="#4a4a4a" stroke-width="1" />
<line x1="388.9" y1="458.0" x2="407.0" y2="458.0" stroke="#c0c0c0" stroke-width="1.6" />
<line x1="388.4" y1="461.5" x2="407.5" y2="461.5" stroke="#4a4a4a" stroke-width="1" />
<line x1="388.4" y1="463.5" x2="407.5" y2="463.5" stroke="#4a4a4a" stroke-width="1" />
<line x1="388.4" y1="466.5" x2="407.5" y2="466.5" stroke="#4a4a4a" stroke-width="1" />
<line x1="388.9" y1="468.0" x2="407.0" y2="468.0" stroke="#c0c0c0" stroke-width="1.6" />
<line x1="388.4" y1="471.5" x2="407.5" y2="471.5" stroke="#4a4a4a" stroke-width="1" />
<line x1="388.4" y1="473.5" x2="407.5" y2="473.5" stroke="#4a4a4a" stroke-width="1" />
<line x1="388.4" y1="476.5" x2="407.5" y2="476.5" stroke="#4a4a4a" stroke-width="1" />
<line x1="388.9" y1="478.0" x2="407.0" y2="478.0" stroke="#c0c0c0" stroke-width="1.6" />
<line x1="388.4" y1="481.5" x2="407.5" y2="481.5" stroke="#4a4a4a" stroke-width="1" />
<polyline points="405.5,428.5 405.5,426.5 407.5,426" stroke="#6c6c6c" stroke-width="1" fill="none"/>
<rect x="405.5" y="496.5" width="2.0" height="5.0" rx="0" stroke="#999" stroke-width="1" fill="none"/>
<path d="M 412.5 413.5 L 411.5 413.5 Q 407.5 413.5 407.5 417.5 L 407.5 514.5 Q 407.5 518.5 411.5 518.5 L 412.5 518.5" stroke="#6c6c6c" stroke-width="1" fill="none"/>
<path d="M 417 390.5 Q 412.5 390.5 412.5 395 L 412.5 536 Q 412.5 540.5 417 540.5" stroke="#6c6c6c" stroke-width="1" fill="none"/>
<line x1="418.0" y1="390.5" x2="418.0" y2="541" stroke="#bcbcbc" stroke-width="2" />
<line x1="417.9" y1="413.5" x2="523.4" y2="413.5" stroke="#6c6c6c" stroke-width="1" />
<line x1="417.9" y1="518.5" x2="523.4" y2="518.5" stroke="#6c6c6c" stroke-width="1" />
<line x1="523.5" y1="413.5" x2="523.5" y2="518.3" stroke="#6c6c6c" stroke-width="1" />
<line x1="516.5" y1="413.5" x2="516.5" y2="518.3" stroke="#6c6c6c" stroke-width="1" />
<rect x="426.5" y="426.5" width="80.0" height="79.0" rx="7" stroke="#6c6c6c" stroke-width="1" fill="none"/>
<line x1="433" y1="427.0" x2="500" y2="427.0" stroke="#b8b8b8" stroke-width="2" />
<rect x="523.5" y="438.5" width="13.0" height="55.0" rx="0" stroke="#6c6c6c" stroke-width="1" fill="none"/>
<rect x="536.5" y="437.5" width="14.0" height="57.0" rx="0" stroke="#6c6c6c" stroke-width="1" fill="none"/>
<line x1="536.9" y1="440.5" x2="550.7" y2="440.5" stroke="#4a4a4a" stroke-width="1" />
<line x1="536.9" y1="442.5" x2="550.7" y2="442.5" stroke="#4a4a4a" stroke-width="1" />
<line x1="536.9" y1="444.5" x2="550.7" y2="444.5" stroke="#4a4a4a" stroke-width="1" />
<line x1="537.4" y1="447.0" x2="550.2" y2="447.0" stroke="#c0c0c0" stroke-width="1.6" />
<line x1="536.9" y1="449.5" x2="550.7" y2="449.5" stroke="#4a4a4a" stroke-width="1" />
<line x1="536.9" y1="451.5" x2="550.7" y2="451.5" stroke="#4a4a4a" stroke-width="1" />
<line x1="536.9" y1="454.5" x2="550.7" y2="454.5" stroke="#4a4a4a" stroke-width="1" />
<line x1="537.4" y1="457.0" x2="550.2" y2="457.0" stroke="#c0c0c0" stroke-width="1.6" />
<line x1="536.9" y1="459.5" x2="550.7" y2="459.5" stroke="#4a4a4a" stroke-width="1" />
<line x1="536.9" y1="461.5" x2="550.7" y2="461.5" stroke="#4a4a4a" stroke-width="1" />
<line x1="536.9" y1="463.5" x2="550.7" y2="463.5" stroke="#4a4a4a" stroke-width="1" />
<line x1="537.4" y1="466.0" x2="550.2" y2="466.0" stroke="#c0c0c0" stroke-width="1.6" />
<line x1="536.9" y1="468.5" x2="550.7" y2="468.5" stroke="#4a4a4a" stroke-width="1" />
<line x1="536.9" y1="471.5" x2="550.7" y2="471.5" stroke="#4a4a4a" stroke-width="1" />
<line x1="536.9" y1="473.5" x2="550.7" y2="473.5" stroke="#4a4a4a" stroke-width="1" />
<line x1="537.4" y1="476.0" x2="550.2" y2="476.0" stroke="#c0c0c0" stroke-width="1.6" />
<line x1="536.9" y1="478.5" x2="550.7" y2="478.5" stroke="#4a4a4a" stroke-width="1" />
<line x1="536.9" y1="480.5" x2="550.7" y2="480.5" stroke="#4a4a4a" stroke-width="1" />
<line x1="536.9" y1="483.5" x2="550.7" y2="483.5" stroke="#4a4a4a" stroke-width="1" />
<line x1="537.4" y1="486.0" x2="550.2" y2="486.0" stroke="#c0c0c0" stroke-width="1.6" />
<line x1="536.9" y1="487.5" x2="550.7" y2="487.5" stroke="#4a4a4a" stroke-width="1" />
<line x1="536.9" y1="490.5" x2="550.7" y2="490.5" stroke="#4a4a4a" stroke-width="1" />
<line x1="536.9" y1="492.5" x2="550.7" y2="492.5" stroke="#4a4a4a" stroke-width="1" />
<path d="M 550.7 439 L 569.3 439 Q 575.3 439 575.3 445 L 575.3 487.4 Q 575.3 493.4 569.3 493.4 L 550.7 493.4" stroke="#6c6c6c" stroke-width="1" fill="none"/>
<polyline points="575.3,451.1 578.7,454.5 578.7,477 575.3,480.4" stroke="#6c6c6c" stroke-width="1" fill="none"/>
<line x1="375.7" y1="466.0" x2="423.5" y2="466.0" stroke="#bcbcbc" stroke-width="1.6" />
<line x1="427.5" y1="466.0" x2="431" y2="466.0" stroke="#bcbcbc" stroke-width="1.6" />
<line x1="435.5" y1="466.0" x2="584.2" y2="466.0" stroke="#bcbcbc" stroke-width="1.6" stroke-dasharray="21.1 4.5 3.5 4.5" stroke-dashoffset="0"/>
<line x1="339" y1="428.5" x2="388.7" y2="428.5" stroke="#6c6c6c" stroke-width="1" />
<line x1="339" y1="484.5" x2="388.7" y2="484.5" stroke="#6c6c6c" stroke-width="1" />
<line x1="356.3" y1="429.5" x2="388.4" y2="429.5" stroke="#bcbcbc" stroke-width="1" />
<line x1="356.3" y1="483.5" x2="388.4" y2="483.5" stroke="#bcbcbc" stroke-width="1" />
<line x1="341.5" y1="428.6" x2="341.5" y2="439" stroke="#6c6c6c" stroke-width="1" />
<polygon points="341.70,428.60 340.40,433.10 343.00,433.10" fill="#333"/>
<line x1="341.5" y1="472" x2="341.5" y2="484.1" stroke="#6c6c6c" stroke-width="1" />
<polygon points="341.70,484.10 340.40,479.60 343.00,479.60" fill="#333"/>
<g fill="none" stroke="#3c3c3c" stroke-width="1.0" transform="rotate(-90 342.2 455.6)"><path transform="translate(336.75 452.25) scale(0.9750 0.9571)" d="M0.3 0H3.8L1.7 2.8H2.1C3.3 2.8 4 3.6 4 4.8C4 6.1 3.2 7 2 7C1.1 7 0.4 6.6 0 6" vector-effect="non-scaling-stroke"/><path transform="translate(343.75 452.25) scale(0.9750 0.9571)" d="M0.3 0H3.8L1.7 2.8H2.1C3.3 2.8 4 3.6 4 4.8C4 6.1 3.2 7 2 7C1.1 7 0.4 6.6 0 6" vector-effect="non-scaling-stroke"/></g>
<line x1="358.5" y1="428.6" x2="358.5" y2="439" stroke="#6c6c6c" stroke-width="1" />
<polygon points="358.50,428.60 357.20,433.10 359.80,433.10" fill="#333"/>
<line x1="358.5" y1="472" x2="358.5" y2="484.1" stroke="#6c6c6c" stroke-width="1" />
<polygon points="358.50,484.10 357.20,479.60 359.80,479.60" fill="#333"/>
<g fill="none" stroke="#3c3c3c" stroke-width="1.0" transform="rotate(-90 359.0 455.6)"><path transform="translate(353.55 452.25) scale(0.9750 0.9571)" d="M0.3 0H3.8L1.7 2.8H2.1C3.3 2.8 4 3.6 4 4.8C4 6.1 3.2 7 2 7C1.1 7 0.4 6.6 0 6" vector-effect="non-scaling-stroke"/><path transform="translate(360.55 452.25) scale(0.9750 0.9571)" d="M0.1 1.6C0.3 0.4 1 0 2 0C3.2 0 4 0.7 4 1.8C4 2.8 3.3 3.4 2.4 4.1L0 7H4" vector-effect="non-scaling-stroke"/></g>
<line x1="375.5" y1="446.5" x2="375.5" y2="456" stroke="#6c6c6c" stroke-width="1" />
<polygon points="375.20,456.00 373.90,451.50 376.50,451.50" fill="#333"/>
<line x1="375.2" y1="456.5" x2="414.6" y2="456.5" stroke="#6c6c6c" stroke-width="1" />
<line x1="375.5" y1="465.8" x2="375.5" y2="474.5" stroke="#6c6c6c" stroke-width="1" />
<polygon points="375.20,465.80 373.90,470.30 376.50,470.30" fill="#333"/>
<g fill="none" stroke="#3c3c3c" stroke-width="1.0" transform="rotate(-90 375.7 439.2)"><path transform="translate(368.75 435.85) scale(0.9750 0.9571)" d="M3.7 0H0.6L0.3 3.1C0.7 2.7 1.3 2.5 2 2.5C3.2 2.5 4 3.4 4 4.7C4 6.1 3.1 7 1.9 7C1 7 0.4 6.6 0 6" vector-effect="non-scaling-stroke"/><rect x="376.05" y="441.55" width="1.0" height="1.0" fill="#3c3c3c" stroke="none"/><path transform="translate(378.75 435.85) scale(0.9750 0.9571)" d="M3.8 0H1.8C0.6 0 0 1.1 0 2.7V4.8C0 6.1 0.8 7 2 7S4 6.1 4 4.8S3.2 2.7 2 2.7S0 3.6 0 4.8" vector-effect="non-scaling-stroke"/></g>
<line x1="554.5" y1="437.5" x2="613.3" y2="437.5" stroke="#bcbcbc" stroke-width="1.4" />
<line x1="554.5" y1="494.5" x2="613.3" y2="494.5" stroke="#6c6c6c" stroke-width="1" />
<line x1="610.5" y1="437.8" x2="610.5" y2="450" stroke="#6c6c6c" stroke-width="1" />
<polygon points="610.30,437.80 609.00,442.30 611.60,442.30" fill="#333"/>
<line x1="610.5" y1="481.5" x2="610.5" y2="494.6" stroke="#6c6c6c" stroke-width="1" />
<polygon points="610.30,494.60 609.00,490.10 611.60,490.10" fill="#333"/>
<g fill="none" stroke="#3c3c3c" stroke-width="1.0" transform="rotate(-90 611.3 465.8)"><path transform="translate(602.35 462.45) scale(0.9750 0.9571)" d="M2 1.3C0.8 1.3 0 2.3 0 3.6S0.8 5.9 2 5.9S4 4.9 4 3.6S3.2 1.3 2 1.3ZM4 0.9L0 6.3" vector-effect="non-scaling-stroke"/><path transform="translate(609.35 462.45) scale(0.9750 0.9571)" d="M0.3 0H3.8L1.7 2.8H2.1C3.3 2.8 4 3.6 4 4.8C4 6.1 3.2 7 2 7C1.1 7 0.4 6.6 0 6" vector-effect="non-scaling-stroke"/><path transform="translate(616.35 462.45) scale(0.9750 0.9571)" d="M0.3 0H3.8L1.7 2.8H2.1C3.3 2.8 4 3.6 4 4.8C4 6.1 3.2 7 2 7C1.1 7 0.4 6.6 0 6" vector-effect="non-scaling-stroke"/></g>
<line x1="583" y1="453.5" x2="596.5" y2="453.5" stroke="#bcbcbc" stroke-width="1.4" />
<line x1="583" y1="477.5" x2="590.8" y2="477.5" stroke="#6c6c6c" stroke-width="1" />
<line x1="594.5" y1="445" x2="594.5" y2="453.7" stroke="#6c6c6c" stroke-width="1" />
<polygon points="594.60,453.70 593.30,449.20 595.90,449.20" fill="#333"/>
<line x1="594.5" y1="477" x2="594.5" y2="485.6" stroke="#6c6c6c" stroke-width="1" />
<polygon points="594.60,477.00 593.30,481.50 595.90,481.50" fill="#333"/>
<g fill="none" stroke="#3c3c3c" stroke-width="1.0" transform="rotate(-90 596.4 465.8)"><path transform="translate(588.35 462.45) scale(0.9750 0.9571)" d="M2 1.3C0.8 1.3 0 2.3 0 3.6S0.8 5.9 2 5.9S4 4.9 4 3.6S3.2 1.3 2 1.3ZM4 0.9L0 6.3" vector-effect="non-scaling-stroke"/><path transform="translate(595.35 462.45) scale(0.9750 0.9571)" d="M0.1 1.3L1.54 0V7" vector-effect="non-scaling-stroke"/><path transform="translate(600.55 462.45) scale(0.9750 0.9571)" d="M3 7V0L0 4.9H4.2" vector-effect="non-scaling-stroke"/></g>
<line x1="578.5" y1="482.2" x2="578.5" y2="579" stroke="#6c6c6c" stroke-width="1" />
<line x1="407.5" y1="520.5" x2="407.5" y2="553.6" stroke="#6c6c6c" stroke-width="1" />
<line x1="417.5" y1="544.5" x2="417.5" y2="566.2" stroke="#6c6c6c" stroke-width="1" />
<line x1="399.4" y1="551.0" x2="405" y2="551.0" stroke="#bcbcbc" stroke-width="1.6" />
<polygon points="407.80,551.00 403.30,549.70 403.30,552.30" fill="#333"/>
<g fill="none" stroke="#3c3c3c" stroke-width="1.0"><path transform="translate(410.65 547.45) scale(0.9750 0.9571)" d="M3.8 0H1.8C0.6 0 0 1.1 0 2.7V4.8C0 6.1 0.8 7 2 7S4 6.1 4 4.8S3.2 2.7 2 2.7S0 3.6 0 4.8" vector-effect="non-scaling-stroke"/></g>
<line x1="420" y1="551.0" x2="450.7" y2="551.0" stroke="#bcbcbc" stroke-width="1.6" />
<polygon points="417.70,551.00 422.20,549.70 422.20,552.30" fill="#333"/>
<line x1="483.8" y1="551.0" x2="514" y2="551.0" stroke="#bcbcbc" stroke-width="1.6" />
<polygon points="516.50,551.00 512.00,549.70 512.00,552.30" fill="#333"/>
<g fill="none" stroke="#3c3c3c" stroke-width="1.0"><path transform="translate(461.55 547.45) scale(0.9750 0.9571)" d="M3.7 0H0.6L0.3 3.1C0.7 2.7 1.3 2.5 2 2.5C3.2 2.5 4 3.4 4 4.7C4 6.1 3.1 7 1.9 7C1 7 0.4 6.6 0 6" vector-effect="non-scaling-stroke"/><path transform="translate(468.55 547.45) scale(0.9750 0.9571)" d="M1.3 3Q0.4 3 0.4 2V1Q0.4 0 1.4 0H2.6Q3.6 0 3.6 1V2Q3.6 3 2.7 3ZM1.2 3Q0 3 0 4.3V5.8Q0 7 1.2 7H2.8Q4 7 4 5.8V4.3Q4 3 2.8 3Z" vector-effect="non-scaling-stroke"/></g>
<line x1="526" y1="551.0" x2="531.8" y2="551.0" stroke="#bcbcbc" stroke-width="1.6" />
<polygon points="523.30,551.00 527.80,549.70 527.80,552.30" fill="#333"/>
<g fill="none" stroke="#3c3c3c" stroke-width="1.0"><path transform="translate(540.05 547.45) scale(0.9750 0.9571)" d="M3 7V0L0 4.9H4.2" vector-effect="non-scaling-stroke"/></g>
<line x1="516.5" y1="522.8" x2="516.5" y2="553.6" stroke="#6c6c6c" stroke-width="1" />
<line x1="523.5" y1="522.8" x2="523.5" y2="566.2" stroke="#6c6c6c" stroke-width="1" />
<line x1="417.7" y1="563.5" x2="454.2" y2="563.5" stroke="#6c6c6c" stroke-width="1" />
<polygon points="417.70,563.40 422.20,562.10 422.20,564.70" fill="#333"/>
<line x1="486.8" y1="563.5" x2="523.3" y2="563.5" stroke="#6c6c6c" stroke-width="1" />
<polygon points="523.30,563.40 518.80,562.10 518.80,564.70" fill="#333"/>
<g fill="none" stroke="#3c3c3c" stroke-width="1.0"><path transform="translate(461.55 559.95) scale(0.9750 0.9571)" d="M3.8 0H1.8C0.6 0 0 1.1 0 2.7V4.8C0 6.1 0.8 7 2 7S4 6.1 4 4.8S3.2 2.7 2 2.7S0 3.6 0 4.8" vector-effect="non-scaling-stroke"/><path transform="translate(468.55 559.95) scale(0.9750 0.9571)" d="M0.1 1.6C0.3 0.4 1 0 2 0C3.2 0 4 0.7 4 1.8C4 2.8 3.3 3.4 2.4 4.1L0 7H4" vector-effect="non-scaling-stroke"/></g>
<line x1="526" y1="534.0" x2="534" y2="534.0" stroke="#bcbcbc" stroke-width="1.6" />
<polygon points="523.30,534.00 527.80,532.70 527.80,535.30" fill="#333"/>
<line x1="567.1" y1="534.0" x2="575.5" y2="534.0" stroke="#bcbcbc" stroke-width="1.6" />
<polygon points="578.10,534.00 573.60,532.70 573.60,535.30" fill="#333"/>
<g fill="none" stroke="#3c3c3c" stroke-width="1.0"><path transform="translate(539.55 530.35) scale(0.9750 0.9571)" d="M0.3 0H3.8L1.7 2.8H2.1C3.3 2.8 4 3.6 4 4.8C4 6.1 3.2 7 2 7C1.1 7 0.4 6.6 0 6" vector-effect="non-scaling-stroke"/><path transform="translate(546.55 530.35) scale(0.9750 0.9571)" d="M0.1 1.6C0.3 0.4 1 0 2 0C3.2 0 4 0.7 4 1.8C4 2.8 3.3 3.4 2.4 4.1L0 7H4" vector-effect="non-scaling-stroke"/><rect x="553.85" y="536.05" width="1.0" height="1.0" fill="#3c3c3c" stroke="none"/><path transform="translate(556.55 530.35) scale(0.9750 0.9571)" d="M3.7 0H0.6L0.3 3.1C0.7 2.7 1.3 2.5 2 2.5C3.2 2.5 4 3.4 4 4.7C4 6.1 3.1 7 1.9 7C1 7 0.4 6.6 0 6" vector-effect="non-scaling-stroke"/></g>
<line x1="388.5" y1="485" x2="388.5" y2="579" stroke="#6c6c6c" stroke-width="1" />
<line x1="388.4" y1="576.5" x2="467.9" y2="576.5" stroke="#6c6c6c" stroke-width="1" />
<polygon points="388.40,576.40 392.90,575.10 392.90,577.70" fill="#333"/>
<line x1="499.8" y1="576.5" x2="578.1" y2="576.5" stroke="#6c6c6c" stroke-width="1" />
<polygon points="578.10,576.40 573.60,575.10 573.60,577.70" fill="#333"/>
<g fill="none" stroke="#3c3c3c" stroke-width="1.0"><path transform="translate(476.65 573.05) scale(0.9750 0.9571)" d="M0.1 1.3L1.54 0V7" vector-effect="non-scaling-stroke"/><path transform="translate(481.85 573.05) scale(0.9750 0.9571)" d="M0.1 1.3L1.54 0V7" vector-effect="non-scaling-stroke"/><path transform="translate(487.05 573.05) scale(0.9750 0.9571)" d="M0.1 1.6C0.3 0.4 1 0 2 0C3.2 0 4 0.7 4 1.8C4 2.8 3.3 3.4 2.4 4.1L0 7H4" vector-effect="non-scaling-stroke"/></g>
<rect x="698.5" y="411.5" width="88.0" height="109.0" rx="6.5" stroke="#6c6c6c" stroke-width="1" fill="none"/>
<circle cx="742.7" cy="401.1" r="3.8" stroke="#6c6c6c" stroke-width="1" fill="none"/>
<line x1="740.2" y1="401.5" x2="745.2" y2="401.5" stroke="#6c6c6c" stroke-width="0.8" />
<line x1="742.5" y1="398.6" x2="742.5" y2="403.6" stroke="#6c6c6c" stroke-width="0.8" />
<line x1="717.3" y1="401.0" x2="737.5" y2="401.0" stroke="#bcbcbc" stroke-width="1.6" />
<line x1="748" y1="401.0" x2="768" y2="401.0" stroke="#bcbcbc" stroke-width="1.6" />
<line x1="773" y1="401.0" x2="832.5" y2="401.0" stroke="#bcbcbc" stroke-width="1.6" />
<circle cx="742.7" cy="530.4" r="3.8" stroke="#6c6c6c" stroke-width="1" fill="none"/>
<line x1="740.2" y1="530.5" x2="745.2" y2="530.5" stroke="#6c6c6c" stroke-width="0.8" />
<line x1="742.5" y1="527.9" x2="742.5" y2="532.9" stroke="#6c6c6c" stroke-width="0.8" />
<line x1="717.3" y1="530.5" x2="737.5" y2="530.5" stroke="#6c6c6c" stroke-width="1" />
<line x1="748" y1="530.5" x2="768" y2="530.5" stroke="#6c6c6c" stroke-width="1" />
<line x1="773" y1="530.5" x2="832.5" y2="530.5" stroke="#6c6c6c" stroke-width="1" />
<line x1="742.5" y1="392" x2="742.5" y2="408.2" stroke="#6c6c6c" stroke-width="1" />
<line x1="742.5" y1="412.2" x2="742.5" y2="538.4" stroke="#6c6c6c" stroke-width="1" stroke-dasharray="3.8 4.5 21.5 4.5" stroke-dashoffset="0"/>
<line x1="687.4" y1="466.0" x2="797.8" y2="466.0" stroke="#bcbcbc" stroke-width="1.6" stroke-dasharray="20.9 4.4 4.2 4.4" stroke-dashoffset="5.9"/>
<line x1="746.1" y1="397.6" x2="764.3" y2="385.9" stroke="#6c6c6c" stroke-width="1" />
<polygon points="745.2,398.2 748.3,393.9 749.7,396.1" fill="#444"/>
<g fill="none" stroke="#3c3c3c" stroke-width="0.95"><path transform="translate(769.97 381.38) scale(1.2600 0.9103)" d="M2 1C0.9 1 0 2.1 0 3.8S0.9 6.6 2 6.6S4 5.5 4 3.8S3.1 1 2 1ZM4.1 0.2L-0.1 7" vector-effect="non-scaling-stroke"/><path transform="translate(782.77 381.87) scale(1.0500 0.7714)" d="M3 7V0L0 4.9H4.2" vector-effect="non-scaling-stroke"/><rect x="788.00" y="386.27" width="1.0" height="1.0" fill="#3c3c3c" stroke="none"/><path transform="translate(792.17 381.87) scale(1.0500 0.7714)" d="M3.7 0H0.6L0.3 3.1C0.7 2.7 1.3 2.5 2 2.5C3.2 2.5 4 3.4 4 4.7C4 6.1 3.1 7 1.9 7C1 7 0.4 6.6 0 6" vector-effect="non-scaling-stroke"/><path transform="translate(804.67 381.87) scale(1.0500 0.7714)" d="M0 0L4 7M4 0L0 7" vector-effect="non-scaling-stroke"/><path transform="translate(817.47 381.87) scale(1.0500 0.7714)" d="M0.1 1.6C0.3 0.4 1 0 2 0C3.2 0 4 0.7 4 1.8C4 2.8 3.3 3.4 2.4 4.1L0 7H4" vector-effect="non-scaling-stroke"/></g>
<line x1="768.3" y1="389.5" x2="821.8" y2="389.5" stroke="#6c6c6c" stroke-width="1" />
<line x1="786.4" y1="411.5" x2="817" y2="411.5" stroke="#6c6c6c" stroke-width="1" />
<line x1="786.7" y1="520.5" x2="817" y2="520.5" stroke="#6c6c6c" stroke-width="1" />
<line x1="814.5" y1="411.5" x2="814.5" y2="449.4" stroke="#6c6c6c" stroke-width="1" />
<polygon points="814.90,411.50 813.60,416.00 816.20,416.00" fill="#333"/>
<line x1="814.5" y1="482.1" x2="814.5" y2="520.6" stroke="#6c6c6c" stroke-width="1" />
<polygon points="814.90,520.60 813.60,516.10 816.20,516.10" fill="#333"/>
<g fill="none" stroke="#3c3c3c" stroke-width="1.0" transform="rotate(-90 815.4 466.3)"><path transform="translate(809.95 462.95) scale(0.9750 0.9571)" d="M3.8 0H1.8C0.6 0 0 1.1 0 2.7V4.8C0 6.1 0.8 7 2 7S4 6.1 4 4.8S3.2 2.7 2 2.7S0 3.6 0 4.8" vector-effect="non-scaling-stroke"/><path transform="translate(816.95 462.95) scale(0.9750 0.9571)" d="M3 7V0L0 4.9H4.2" vector-effect="non-scaling-stroke"/></g>
<line x1="830.5" y1="401.1" x2="830.5" y2="436.5" stroke="#6c6c6c" stroke-width="1" />
<polygon points="830.20,401.10 828.90,405.60 831.50,405.60" fill="#333"/>
<line x1="830.5" y1="494.2" x2="830.5" y2="530.4" stroke="#6c6c6c" stroke-width="1" />
<polygon points="830.20,530.40 828.90,525.90 831.50,525.90" fill="#333"/>
<g fill="none" stroke="#3c3c3c" stroke-width="1.0" transform="rotate(-90 830.7 466.5)"><path transform="translate(813.25 463.15) scale(0.9750 0.9571)" d="M0 0H4L1.4 7" vector-effect="non-scaling-stroke"/><path transform="translate(820.25 463.15) scale(0.9750 0.9571)" d="M3.8 0H1.8C0.6 0 0 1.1 0 2.7V4.8C0 6.1 0.8 7 2 7S4 6.1 4 4.8S3.2 2.7 2 2.7S0 3.6 0 4.8" vector-effect="non-scaling-stroke"/><path transform="translate(827.25 463.15) scale(0.9750 0.9571)" d="M2 0.6V4.8M0 2.7H4M0 6.8H4" vector-effect="non-scaling-stroke"/><path transform="translate(834.25 463.15) scale(0.9750 0.9571)" d="M1.1 0H2.9Q4 0 4 1.3V5.7Q4 7 2.9 7H1.1Q0 7 0 5.7V1.3Q0 0 1.1 0Z" vector-effect="non-scaling-stroke"/><rect x="841.55" y="468.85" width="1.0" height="1.0" fill="#3c3c3c" stroke="none"/><path transform="translate(844.25 463.15) scale(0.9750 0.9571)" d="M0.1 1.6C0.3 0.4 1 0 2 0C3.2 0 4 0.7 4 1.8C4 2.8 3.3 3.4 2.4 4.1L0 7H4" vector-effect="non-scaling-stroke"/></g>
<line x1="698.5" y1="516.5" x2="698.5" y2="551.2" stroke="#6c6c6c" stroke-width="1" />
<line x1="786.5" y1="516.5" x2="786.5" y2="551.2" stroke="#6c6c6c" stroke-width="1" />
<line x1="698.3" y1="549.5" x2="726.3" y2="549.5" stroke="#6c6c6c" stroke-width="1" />
<polygon points="698.30,549.40 702.80,548.10 702.80,550.70" fill="#333"/>
<line x1="759.1" y1="549.5" x2="786.7" y2="549.5" stroke="#6c6c6c" stroke-width="1" />
<polygon points="786.70,549.40 782.20,548.10 782.20,550.70" fill="#333"/>
<g fill="none" stroke="#3c3c3c" stroke-width="1.0"><path transform="translate(737.25 545.65) scale(0.9750 0.9571)" d="M3.7 0H0.6L0.3 3.1C0.7 2.7 1.3 2.5 2 2.5C3.2 2.5 4 3.4 4 4.7C4 6.1 3.1 7 1.9 7C1 7 0.4 6.6 0 6" vector-effect="non-scaling-stroke"/><path transform="translate(744.25 545.65) scale(0.9750 0.9571)" d="M0.1 1.6C0.3 0.4 1 0 2 0C3.2 0 4 0.7 4 1.8C4 2.8 3.3 3.4 2.4 4.1L0 7H4" vector-effect="non-scaling-stroke"/></g>
</svg>
</body></html>
